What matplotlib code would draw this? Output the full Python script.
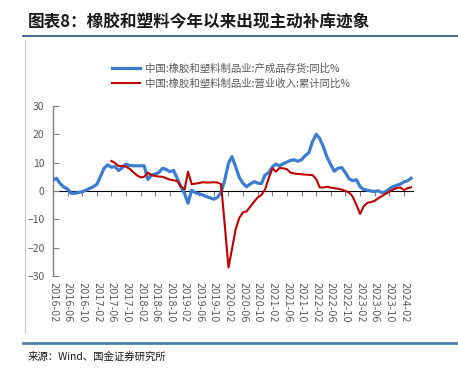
import pandas as pd
import matplotlib
matplotlib.use("Agg")
import matplotlib.pyplot as plt
import matplotlib.dates as mdates
from matplotlib.ticker import NullFormatter
from matplotlib.lines import Line2D

plt.rcParams['font.family'] = ['Noto Sans CJK SC', 'DejaVu Sans']

# --- data ---
blue_start = "2016-02"
blue_vals = [3.9, 4.5, 2.6, 1.4, 0.7, -0.8, -0.8, -0.5, -0.3, 0.3, 0.9, 1.5,
             2.4, 5.0, 8.0, 9.2, 8.4, 8.6, 7.2, 8.3, 9.5, 9.0, 8.9, 8.9,
             8.9, 8.9, 4.1, 5.6, 6.0, 6.5, 8.0, 7.6, 6.8, 7.3, 4.5, 1.5,
             -1.0, -4.3, 0.3, -0.6, -1.0, -1.4, -2.0, -2.4, -2.9, -2.3, -0.5, 3.9,
             9.8, 12.1, 8.5, 4.8, 2.7, 1.5, 2.5, 3.3, 2.8, 2.6, 5.6, 6.5,
             8.5, 9.5, 8.9, 9.6, 10.2, 10.8, 11.0, 10.5, 11.0, 12.5, 13.5, 17.5,
             20.0, 18.6, 15.6, 12.0, 9.3, 7.0, 8.0, 8.3, 6.5, 4.3, 3.6, 4.0,
             1.5, 0.6, 0.3, 0.0, -0.2, 0.1, -0.6, -0.3, 0.7, 1.5, 2.0, 2.4,
             3.2, 3.6, 4.5]

red_start = "2017-06"
red_vals = [10.6, 9.9, 8.8, 8.9, 8.6, 7.8, 6.6, 5.5,
            4.8, 5.0, 6.5, 5.6, 5.3, 5.1, 5.0, 4.5, 4.0, 3.8, 3.5, 1.6,
            0.6, 6.8, 2.4, 2.6, 2.8, 3.1, 3.0, 3.0, 3.1, 3.0, 2.4, -12.0,
            -27.0, -20.5, -13.5, -9.5, -7.5, -7.2, -5.5, -3.8, -2.3, -1.4, 0.5, 4.5,
            8.0, 6.8, 8.1, 8.0, 7.7, 6.5, 6.2, 6.0, 5.9, 5.8, 5.7, 5.6,
            4.2, 1.3, 1.2, 1.5, 1.2, 1.0, 0.8, 0.5, 0.0, -0.5, -2.0, -4.9,
            -8.1, -5.5, -4.2, -3.9, -3.5, -2.6, -1.8, -1.0, -0.3, 0.5, 1.0, 1.3,
            0.3, 1.0, 1.3]

blue_label = "中国:橡胶和塑料制品业:产成品存货:同比%"
red_label = "中国:橡胶和塑料制品业:营业收入:累计同比%"
title = "图表8：橡胶和塑料今年以来出现主动补库迹象"
source = "来源：Wind、国金证券研究所"

blue_dates = pd.date_range(blue_start, periods=len(blue_vals), freq="MS")
red_dates = pd.date_range(red_start, periods=len(red_vals), freq="MS")

# --- figure ---
fig = plt.figure(figsize=(4.58, 3.74), dpi=100)
ax = fig.add_axes([0.1157, 0.262, 0.786, 0.4546])

ax.plot(blue_dates, blue_vals, color="#3a7dd0", linewidth=2.3, label=blue_label, zorder=3)
ax.plot(red_dates, red_vals, color="#c00000", linewidth=1.5, label=red_label, zorder=4)

ax.set_ylim(-30, 30)
ax.set_yticks(range(-30, 31, 10))
ax.set_xlim(blue_dates[0], blue_dates[-1] + pd.Timedelta(days=15))

ax.xaxis.set_major_locator(mdates.MonthLocator(bymonth=[2, 6, 10]))
ax.xaxis.set_major_formatter(mdates.DateFormatter("%Y-%m"))
ax.tick_params(axis="x", length=0, labelrotation=-90, labelsize=7,
               labelcolor="#595959", pad=4)
ax.tick_params(axis="y", direction="in", length=4, color="#808080",
               labelsize=7.5, labelcolor="#595959", pad=6)
for lab in ax.get_xticklabels():
    lab.set_family("DejaVu Sans")

for s in ["top", "right", "bottom"]:
    ax.spines[s].set_visible(False)
ax.spines["left"].set_color("#808080")
ax.spines["left"].set_linewidth(1.0)

# zero axis line with tick marks
zax = ax.secondary_xaxis(0.5)
zax.xaxis.set_major_locator(mdates.MonthLocator(bymonth=[2, 6, 10]))
zax.xaxis.set_major_formatter(NullFormatter())
zax.tick_params(direction="in", length=3.5, color="#808080",
                labelbottom=False, labeltop=False)
zax.spines["bottom"].set_color("#808080")
zax.spines["bottom"].set_linewidth(1.3)

leg = ax.legend(loc="upper left", bbox_to_anchor=(0.2445, 0.831),
                bbox_transform=fig.transFigure, frameon=False, fontsize=7.5,
                handlelength=2.7, handletextpad=0.5, labelspacing=0.45,
                borderpad=0, borderaxespad=0)
for t in leg.get_texts():
    t.set_color("#595959")

# title, rules, source
fig.text(0.06, 0.941, title, fontsize=12, fontweight="bold", color="#1a1a1a",
         va="center", ha="left")
fig.add_artist(Line2D([0.05, 1.0], [0.904, 0.904], color="#2f5f88", linewidth=1.3))
fig.add_artist(Line2D([0.055, 0.055], [0.11, 0.893], color="#c8c8c8", linewidth=0.8))
fig.add_artist(Line2D([0.05, 1.0], [0.083, 0.083], color="#4f7fa6", linewidth=2.0))
fig.text(0.06, 0.045, source, fontsize=7.5, color="#1a1a1a", va="center", ha="left")

fig.savefig("out.png", dpi=100)
